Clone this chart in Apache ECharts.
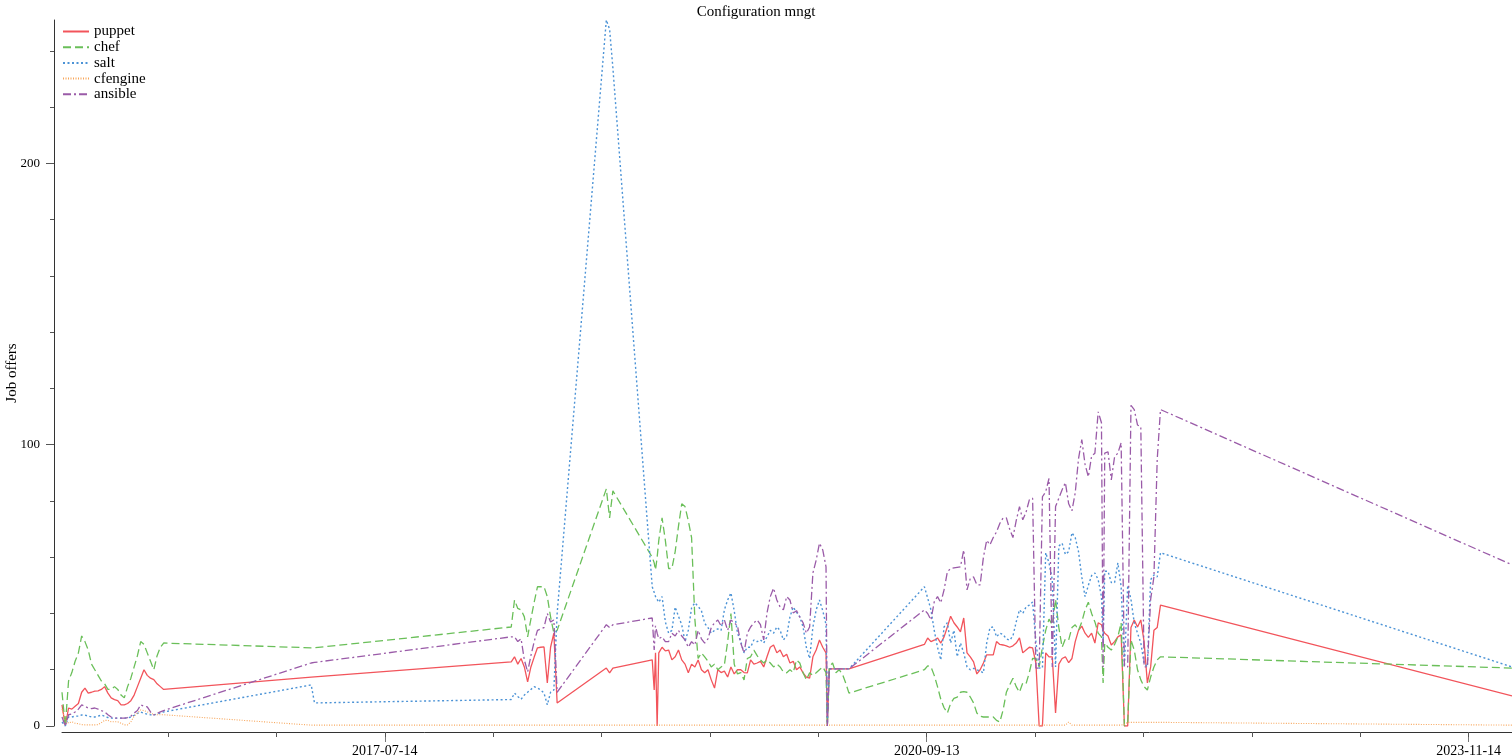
<!DOCTYPE html>
<html>
<head>
<meta charset="utf-8">
<script src="https://cdn.jsdelivr.net/npm/echarts@6/dist/echarts.min.js"></script>
<style>html,body{margin:0;padding:0;background:#fff}#c{width:1512px;height:756px}</style>
</head>
<body>
<div id="c"></div>
<script>
// x values: weeks since 2015-08-25
const weeks = [
  0,1,2,3,4,5,6,7,8,9,10,11,12,13,14,15,16,17,18,19,20,21,22,23,24,25,26,27,28,29,30,31,
  76,77,
  137,138,139,140,141,142,143,144,145,146,147,148,149,150,151,
  166,167,168,
  180,180.6,181,181.5,182,183,184,185,186,187,188,189,190,191,192,193,194,195,196,197,198,199,200,
  201,202,203,204,205,206,207,208,209,210,211,212,213,214,215,216,217,218,219,220,
  221,222,223,224,225,226,227,228,229,230,231,232,233,233.4,234,235,236,237,238,239,240,
  263,264,265,266,267,268,269,270,271,272,273,274,275,276,277,278,279,280,
  281,282,283,284,285,286,287,288,289,290,291,292,293,294,295,296,297,298,299,300,
  301,302,303,304,305,306,307,308,309,310,311,312,313,314,315,316,317,317.5,318,319,320,
  321,322,323,324,325,326,327,328,329,330,331,332,333,334,335,
  442.2
];
const puppet = [
  7.5,0,6.4,6,7,8,12,13.5,11.7,12,12.4,12.5,13,14,11.7,10,9.4,9,7.5,7.5,8,9,11,14,17,20,18,17,16.5,15,14,13,
  17.4,17.5,
  22.8,24.6,22,24,21,15.7,21,24.5,27.8,28,28.1,15.3,28,33,8.2,
  20.6,18.9,20.6,
  23.5,12.8,26,0,26,28,26.7,27,23.5,24.6,27,23.5,22,18.9,22,21,23.5,20,18.9,20,16.4,13.5,20,
  19,19.5,17.4,21,18.5,20,20,19,18.9,23.5,22,22.4,23,21,24.6,28,28.8,26,27,24.6,
  25.5,22.4,23,20,21,18.9,17.4,17,24.6,27,30.6,28,26,0,20.3,20.3,20.3,20.3,20.3,20.3,20.3,
  29,31.3,30,30.5,31.3,29.5,31.7,35.2,39,36.7,35.2,33.5,38.4,26,24.6,22.8,18.5,20,
  22.4,25.3,25.3,25.3,30,29,28.8,28.5,28,28.5,29.5,31.3,26,27,28,27.8,22.4,0,0,26,
  24.6,24.6,4.6,22,24,24.6,22.5,24,30,34,35.5,33,31.5,33,29.5,36.7,36,34,33,32,28.8,
  30,31.7,32.4,0,0,35,37.7,35.2,37.7,30,15.3,21,34,35,43,
  10.7
];
const chef = [
  12,0,16,19,23,26,32,30,27,22,20,18,16,15,13,13,14,13,11,10,14,17,21,25,30,29,26,23,20,25,28,29.5,
  27.8,27.8,
  35.2,44.8,41.8,41.3,38.8,31.7,38,44,49.5,49.5,49.5,46,38.8,33,34,
  84.3,74,83.6,
  60,58,55.5,60,66,74,66,56,56,62,71,79,78,73,67,38,24,26,24.6,23,21,22,20,
  21,21.7,30,40,22,18.5,19,16.4,24,24.6,27,25,23.5,22.4,23.5,22.4,21,22,21,19.2,
  18.9,20,19,23.5,22.4,18.9,16.4,18.9,18,18.9,20,21,19,0,21,22.4,18.9,20,18.5,15.3,11.7,
  20,21.4,21,18,14,9.5,6.5,4.6,8,9.8,10.3,12,12.2,12,10.3,8.2,4.6,3.5,
  3.2,3.2,3.2,3.2,2,1.4,5.7,12,14.6,17,14,12,15.3,15,19,24,24,21,28,34,
  38,36,45,35,28,31,30.6,35,36,34,37,41.3,44,40,37,33,31.7,15.3,29.5,28,27,
  29,31.7,36.7,0,1,30.6,27,20,16.4,14,12.8,17.4,21,23.5,24.6,
  20.6
];
const salt = [
  1.4,0,3.2,3.2,3.5,3.5,3.9,3.9,3.5,3.2,3.2,3.5,3.9,3.5,3,2.8,2.8,2.8,2.8,2.8,2.8,3.2,3.8,4.5,5,4.5,4.2,4,3.9,4.3,4.6,5,
  14.6,8.2,
  9.4,11.7,10.5,9.5,11,12,13,14,13.5,12.8,11.7,7.5,12,12.8,40,
  251,247.7,234,
  49.5,47.5,46,45,44,46,37,33,34,42.3,39,36,30,34,42,43.8,42.5,41,36.5,35,33,34,34.5,
  34,41.3,44.8,47.3,41,33,30,26,28,28,30.6,30,30.6,29.5,31.7,34,33,35.2,34,30.6,
  32,38.8,42.3,40.5,38.8,35.2,28,24,35.2,41.3,44.8,41,36,0,20.3,20.3,20.3,20.3,20.3,20.3,20.3,
  49.5,45.5,41.3,34,28,23.5,35.2,36.7,29.5,34,24.6,29.5,26,21,20,20.5,20,19.5,
  18.9,29.5,35,35.2,31.7,33,32.5,31,30.5,32,37,41.3,40,42.3,43,44.1,30,20.6,20.6,61.6,
  58,52,21,64,65,61,62,68.7,67,62,53,46,50,53.5,54.4,52,46,29.5,55,55,51,
  51,58,49.5,21,50,45,36.7,33,29.5,22.4,21,52,53.7,53,61.6,
  21
];
const cfengine = [
  6,2,1,1.5,1,0.8,0.5,0.4,0.4,0.4,0.4,0.5,1.2,2,2,1.5,1.5,1.5,1,0.4,0.4,1.5,3.5,4.6,5.7,5.5,5,4.5,4.2,4,4,4,
  0.3,0.3,
  0.3,0.3,0.3,0.3,0.3,0.3,0.3,0.3,0.3,0.3,0.3,0.3,0.3,0.3,0.3,
  0.3,0.3,0.3,
  0.3,0.3,0.3,0.3,0.3,0.3,0.3,0.3,0.3,0.3,0.3,0.3,0.3,0.3,0.3,0.3,0.3,0.3,0.3,0.3,0.3,0.3,0.3,
  0.3,0.3,0.3,0.3,0.3,0.3,0.3,0.3,0.3,0.3,0.3,0.3,0.3,0.3,0.3,0.3,0.3,0.3,0.3,0.3,
  0.3,0.3,0.3,0.3,0.3,0.3,0.3,0.3,0.3,0.3,0.3,0.3,0.3,0,0.3,0.3,0.3,0.3,0.3,0.3,0.3,
  0.3,0.3,0.3,0.3,0.3,0.3,0.3,0.3,0.3,0.3,0.3,0.3,0.3,0.3,0.3,0.3,0.3,0.3,
  0.3,0.3,0.3,0.3,0.3,0.3,0.3,0.3,0.3,0.3,0.3,0.3,0.3,0.3,0.3,0.3,0.3,0.3,0.3,0.3,
  0.3,0.3,0.3,0.3,0.3,0.3,1.4,0.3,0.3,0.3,0.3,0.3,0.3,0.3,0.3,0.3,0.3,0.3,0.3,0.3,0.3,
  0.3,0.3,0.3,0.6,1.3,1.3,1.3,1.3,1.3,1.3,1.3,1.3,1.3,1.3,1.3,
  0.3
];
const ansible = [
  3.2,0,4,4.3,5,6,7.5,7,6.4,6.2,6.4,6,5.5,5,4,3.2,2.8,2.8,2.8,2.8,3,3.5,4.6,5.5,7.5,7,6.8,5,3.9,4.5,5,5.5,
  22.4,22.6,
  31.7,31.7,30,31,23.5,19.2,25,30,34,34.5,35,40,37,37.7,12,
  36,35,36,
  38.4,27,35.6,33,31,31.7,30,30,33,32,34,32,30.6,28,30,28.8,34,31,29.5,31,35,36.7,37.7,
  35.6,37.7,34,37.7,36.7,35.6,29.5,26,33,35.2,36.7,37.7,36,30.6,40.2,46,49,44.8,42.3,41.3,
  46,44.8,40.2,41,38.8,36.7,33,35.2,54.4,59,65,62.6,56.6,0,20.3,20.3,20.3,20.3,20.3,20.3,20.3,
  41.3,40,37.7,44.1,46,43.8,48.4,54.8,56,56.2,56.4,56.6,62.6,48.4,52.5,53,50.2,50.2,
  60,66,64.4,67,69,72,74,74,70,67,73,78,73.3,76,80.4,81,20.6,20.6,81.5,83.3,
  88,21,78,81,84,86.5,79,76.5,82.9,95,101.8,93,88.6,96,97,111.7,107.8,21,97,97.5,87.5,
  95.7,97,100.7,21,21,114,112.5,107,106.4,21,21,45,53,94.7,112.5,
  57.3
];
const seriesNames = ['puppet','chef','salt','cfengine','ansible'];
const tickLabels = ['2017-07-14','2020-09-13','2023-11-14'];
const yTickLabels = [0, 100, 200];

const START = Date.UTC(2015, 7, 25);
const DAY = 86400000;
const FONT = '"Liberation Serif", "DejaVu Serif", serif';
const majorDays = tickLabels.map(s => (Date.parse(s) - START) / DAY);
const step = (majorDays[1] - majorDays[0]) / 5;
const xMax = weeks[weeks.length - 1] * 7;
const minorDays = [];
for (let t = majorDays[0]; t >= 0; t -= step) minorDays.unshift(t);
for (let t = majorDays[0] + step; t <= xMax + 1e-6; t += step) minorDays.push(t);
const yMax = 251;
const yMinor = [];
for (let v = 20; v < yMax; v += 20) if (v % 100 !== 0) yMinor.push(v);

function fmtDay(d) { return new Date(START + Math.round(d) * DAY).toISOString().slice(0, 10); }

const values = [puppet, chef, salt, cfengine, ansible];
const colors = ['#f2545b', '#6abf59', '#4c93d6', '#f7a559', '#9a5ba8'];
const dashes = ['solid', [8, 4], [2, 2.5], [1, 1.5], [8, 3, 2, 3]];
const widths = [1.3, 1.3, 1.4, 1.1, 1.3];

const chart = echarts.init(document.getElementById('c'), null, {renderer: 'canvas'});
chart.setOption({
  animation: false,
  backgroundColor: '#ffffff',
  title: {
    text: 'Configuration mngt', left: 'center', top: 0,
    textStyle: {fontFamily: FONT, fontSize: 15, fontWeight: 'normal', color: '#000'}
  },
  legend: {
    orient: 'vertical', left: 62, top: 24, itemWidth: 26, itemHeight: 14, itemGap: 0.7,
    padding: 0,
    itemStyle: {opacity: 0, borderWidth: 0},
    textStyle: {fontFamily: FONT, fontSize: 15, color: '#000', lineHeight: 14},
    data: seriesNames
  },
  grid: {left: 62, right: 0, top: 20, bottom: 30, containLabel: false, outerBoundsMode: 'none'},
  xAxis: [{
    type: 'value', min: 0, max: xMax, offset: 6,
    axisLine: {onZero: false, lineStyle: {color: '#333', width: 1}},
    axisTick: {customValues: majorDays, length: 10, lineStyle: {color: '#777'}},
    axisLabel: {customValues: majorDays, formatter: fmtDay, fontFamily: FONT, fontSize: 14, color: '#000', margin: 12},
    splitLine: {show: false}
  }, {
    type: 'value', min: 0, max: xMax, offset: 6, position: 'bottom',
    axisLine: {show: false, onZero: false},
    axisTick: {customValues: minorDays, length: 5, lineStyle: {color: '#555'}},
    axisLabel: {show: false},
    splitLine: {show: false}
  }],
  yAxis: [{
    type: 'value', min: 0, max: yMax, offset: 8, position: 'left',
    name: 'Job offers', nameLocation: 'middle', nameGap: 34, nameMoveOverlap: false,
    nameTextStyle: {fontFamily: FONT, fontSize: 15, color: '#000'},
    axisLine: {show: true, onZero: false, lineStyle: {color: '#333', width: 1}},
    axisTick: {show: true, customValues: yTickLabels, length: 8, lineStyle: {color: '#555'}},
    axisLabel: {customValues: yTickLabels, fontFamily: FONT, fontSize: 13, color: '#000', margin: 14},
    splitLine: {show: false}
  }, {
    type: 'value', min: 0, max: yMax, offset: 8, position: 'left',
    axisLine: {show: false, onZero: false},
    axisTick: {show: true, customValues: yMinor, length: 4, lineStyle: {color: '#555'}},
    axisLabel: {show: false},
    splitLine: {show: false}
  }],
  series: seriesNames.map((name, k) => ({
    name, type: 'line', xAxisIndex: 0, yAxisIndex: 0,
    showSymbol: false, symbol: 'none',
    color: colors[k],
    lineStyle: {color: colors[k], width: widths[k], type: dashes[k]},
    data: weeks.map((w, i) => [w * 7, values[k][i]])
  }))
});
</script>
</body>
</html>
